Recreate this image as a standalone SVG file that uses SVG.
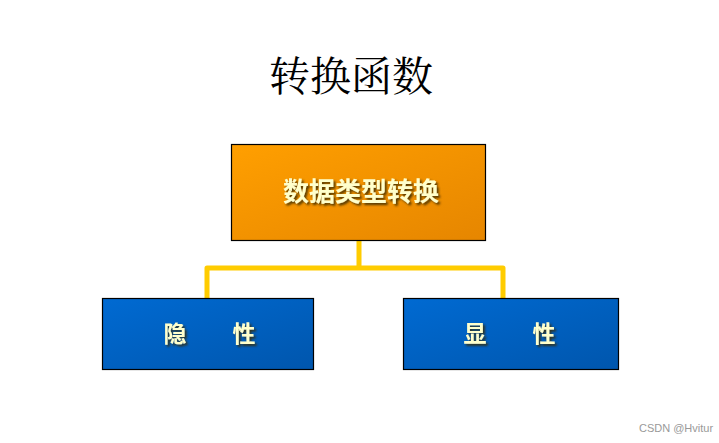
<svg xmlns="http://www.w3.org/2000/svg" width="719" height="443" viewBox="0 0 719 443">
<defs>
<linearGradient id="og" x1="0" y1="0" x2="1" y2="1">
<stop offset="0" stop-color="#ff9f00"/>
<stop offset="1" stop-color="#e68600"/>
</linearGradient>
<linearGradient id="bg" x1="0" y1="0" x2="1" y2="1">
<stop offset="0" stop-color="#006ad2"/>
<stop offset="1" stop-color="#0056ad"/>
</linearGradient>
<filter id="sh" x="-10%" y="-20%" width="130%" height="150%">
<feDropShadow dx="2" dy="2" stdDeviation="0.8" flood-color="#3a2a00" flood-opacity="0.85"/>
</filter>
</defs>
<style>
.box{stroke:#000;stroke-width:1.2}
.lbl{font-family:"Noto Sans CJK SC",sans-serif;font-weight:bold;fill:#ffffcc;text-anchor:middle;filter:url(#sh)}
.conn{fill:none;stroke:#ffcc00;stroke-width:5;stroke-linejoin:round}
</style>
<rect width="719" height="443" fill="#fff"/>
<text x="351" y="91" font-family="'Noto Serif CJK SC','Noto Sans CJK SC',serif" font-size="41" text-anchor="middle" fill="#000">转换函数</text>
<g id="connectors">
<path class="conn" d="M359 241 V268 M207 298 V268 H503 V298"/>
</g>
<g id="node-root">
<rect class="box" x="231.5" y="144.5" width="254" height="96" fill="url(#og)"/>
<text class="lbl" x="361" y="201" font-size="26">数据类型转换</text>
</g>
<g id="node-implicit">
<rect class="box" x="102.5" y="298.5" width="211" height="71" fill="url(#bg)"/>
<text class="lbl" x="209.5" y="342" font-size="23">隐　　性</text>
</g>
<g id="node-explicit">
<rect class="box" x="403.5" y="298.5" width="215" height="71" fill="url(#bg)"/>
<text class="lbl" x="509.5" y="342" font-size="23">显　　性</text>
</g>
<text x="676" y="432" font-family="'Liberation Sans',sans-serif" font-size="11" fill="#999" text-anchor="middle">CSDN @Hvitur</text>
</svg>
